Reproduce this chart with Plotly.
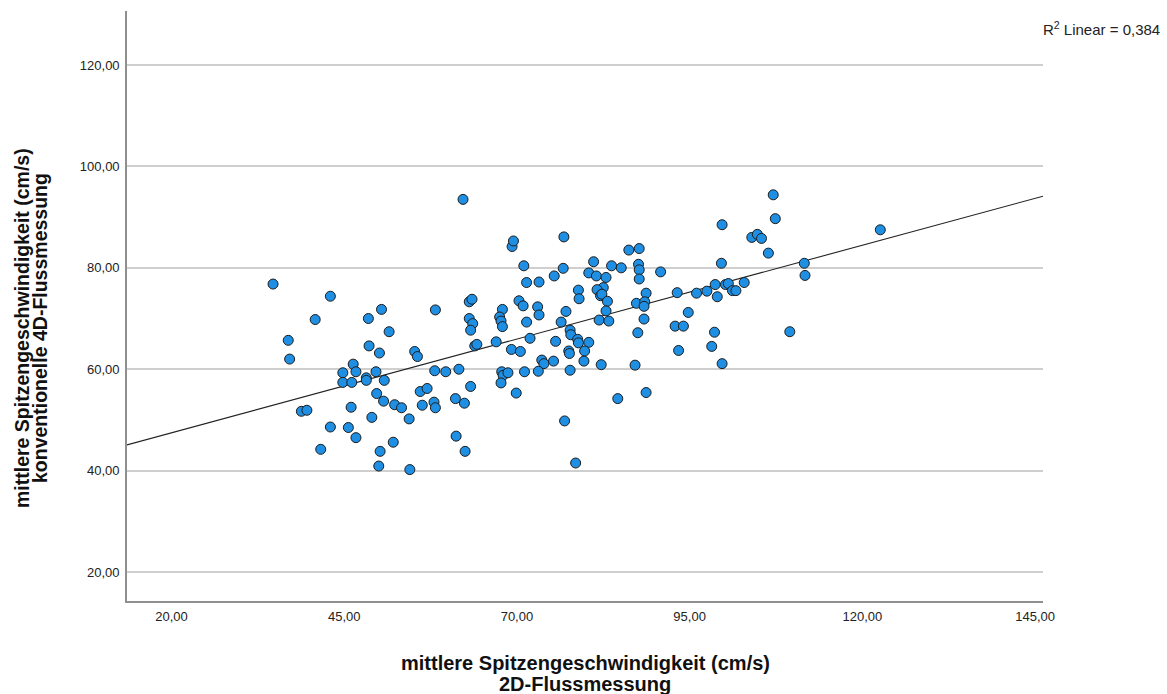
import numpy as np
import plotly.graph_objects as go

# Mittlere Spitzengeschwindigkeit (cm/s): 2D-Flussmessung vs. konventionelle 4D-Flussmessung
x_2d = [
    34.7, 43.0, 40.8, 48.5, 50.4, 51.5, 36.9, 37.1, 48.6, 50.1, 46.3, 44.8, 46.7, 44.8, 46.1,
    48.2, 48.2, 49.6, 50.8, 49.7, 50.7, 52.3, 38.8, 39.6, 46.0, 49.0, 43.0, 45.6, 46.7, 41.6,
    50.2, 50.0, 52.1,
    53.3, 54.4, 54.5, 62.2, 69.3, 69.5, 71.0, 71.4, 73.2, 75.4, 58.2, 63.1, 63.5, 63.1, 63.6,
    63.3, 63.9, 64.2, 55.2, 55.6, 58.1, 59.7, 61.6, 56.0, 57.0, 56.3, 58.0, 58.2, 61.1, 62.4,
    63.3, 61.2, 62.5, 67.0, 67.9, 67.5, 67.7, 67.9, 70.3, 70.9, 71.4, 71.9, 73.0, 73.2, 69.2,
    70.5, 73.6, 73.9, 75.3, 75.6, 67.8, 68.0, 68.7, 67.7, 71.1, 73.1, 69.9,
    76.7, 76.8, 76.4, 77.1, 77.7, 77.8, 77.5, 77.6, 77.7, 76.9, 78.5, 78.9, 79.0, 78.8, 78.9,
    80.4, 79.8, 79.7, 82.2, 80.4, 81.1, 81.5, 82.9, 82.5, 81.6, 82.1, 82.3, 83.1, 82.9, 81.9,
    83.3, 83.7, 85.1, 86.2, 87.7, 87.6, 87.7, 87.7, 90.8, 87.3, 88.7, 88.5, 88.4, 88.4, 87.5,
    87.1, 84.6, 88.7, 93.2, 92.9, 94.1, 94.8, 93.4, 96.0, 97.5, 98.7, 99.0, 98.6, 98.2,
    99.7, 99.6, 100.2, 100.6, 101.2, 101.7, 102.9, 99.7, 104.0, 104.8, 105.4, 106.4, 107.1,
    107.4, 109.5, 111.6, 111.7, 122.6,
]
y_4d = [
    76.8, 74.4, 69.8, 70.0, 71.8, 67.4, 65.7, 62.0, 64.6, 63.2, 61.0, 59.3, 59.5, 57.4, 57.4,
    58.3, 57.8, 59.5, 57.8, 55.2, 53.7, 53.0, 51.7, 51.9, 52.5, 50.5, 48.6, 48.5, 46.5, 44.2,
    43.8, 40.9, 45.6,
    52.4, 50.2, 40.2, 93.5, 84.2, 85.3, 80.4, 77.1, 77.2, 78.4, 71.7, 73.3, 73.8, 70.0, 69.0,
    67.7, 64.6, 64.9, 63.5, 62.5, 59.7, 59.5, 60.0, 55.6, 56.2, 52.9, 53.5, 52.4, 54.2, 53.3,
    56.6, 46.8, 43.8, 65.4, 71.8, 70.3, 69.5, 68.4, 73.5, 72.5, 69.3, 66.1, 72.3, 70.7, 63.9,
    63.5, 61.8, 61.1, 61.6, 65.5, 59.5, 58.8, 59.3, 57.3, 59.5, 59.6, 55.3,
    79.9, 86.1, 69.3, 71.4, 67.7, 66.8, 63.6, 63.1, 59.8, 49.8, 41.5, 75.6, 73.9, 65.9, 65.2,
    65.3, 63.6, 61.6, 60.9, 79.0, 81.2, 78.4, 78.1, 76.1, 75.7, 74.5, 74.8, 73.4, 71.5, 69.7,
    69.5, 80.4, 80.0, 83.5, 83.8, 80.7, 79.6, 77.8, 79.2, 73.0, 75.0, 73.3, 72.4, 69.9, 67.2,
    60.8, 54.2, 55.4, 75.1, 68.5, 68.5, 71.2, 63.7, 75.0, 75.4, 76.7, 74.3, 67.3, 64.5,
    88.5, 80.9, 76.7, 76.9, 75.5, 75.5, 77.1, 61.1, 86.0, 86.6, 85.8, 82.9, 94.4,
    89.7, 67.4, 80.9, 78.5, 87.5,
]

x_ticks = [20, 45, 70, 95, 120, 145]
x_tick_labels = ["20,00", "45,00", "70,00", "95,00", "120,00", "145,00"]
y_ticks = [20, 40, 60, 80, 100, 120]
y_tick_labels = ["20,00", "40,00", "60,00", "80,00", "100,00", "120,00"]

x_range = [13.56, 146.15]
y_range = [14.28, 130.66]

x_title_lines = ["mittlere Spitzengeschwindigkeit (cm/s)", "2D-Flussmessung"]
y_title_lines = ["mittlere Spitzengeschwindigkeit (cm/s)", "konventionelle 4D-Flussmessung"]
r2_label = "R<sup>2</sup> Linear = 0,384"

# Least-squares fit line across the full x range
slope, intercept = np.polyfit(x_2d, y_4d, 1)
fit_x = np.array(x_range)
fit_y = intercept + slope * fit_x

FONT = "Liberation Sans, Arial, sans-serif"

fig = go.Figure()
fig.add_trace(go.Scatter(
    x=fit_x, y=fit_y, mode="lines",
    line=dict(color="#222222", width=1.1),
    hoverinfo="skip", showlegend=False,
))
fig.add_trace(go.Scatter(
    x=x_2d, y=y_4d, mode="markers",
    marker=dict(size=10, color="#1E8FE3", line=dict(color="#1c1c1c", width=1)),
    showlegend=False,
))

annotations = []
# x-axis title, one annotation per line for tight line spacing
for text, ypos in zip(x_title_lines, [-0.1051, -0.1415]):
    annotations.append(dict(
        text=f"<b>{text}</b>", xref="paper", yref="paper", x=0.5, y=ypos,
        xanchor="center", yanchor="middle", showarrow=False,
        font=dict(family=FONT, size=20, color="#111111"),
    ))
# y-axis title, rotated
for text, xpos in zip(y_title_lines, [-0.1146, -0.095]):
    annotations.append(dict(
        text=f"<b>{text}</b>", xref="paper", yref="paper", x=xpos, y=0.4627,
        xanchor="center", yanchor="middle", showarrow=False, textangle=-90,
        font=dict(family=FONT, size=19.5, color="#111111"),
    ))
annotations.append(dict(
    text=r2_label, xref="paper", yref="paper", x=0.9978, y=0.971,
    xanchor="left", yanchor="middle", showarrow=False,
    font=dict(family=FONT, size=15, color="#222222"),
))

fig.update_layout(
    width=1167, height=694,
    margin=dict(l=127, r=124, t=11, b=93),
    paper_bgcolor="white", plot_bgcolor="white",
    font=dict(family=FONT, size=13, color="#222222"),
    xaxis=dict(
        range=x_range, tickvals=x_ticks, ticktext=x_tick_labels,
        showgrid=False, zeroline=False, showline=True,
        linecolor="#8f8f8f", linewidth=1.6, ticks="",
        ticklabelstandoff=3,
        tickfont=dict(family=FONT, size=13, color="#222222"),
    ),
    yaxis=dict(
        range=y_range, tickvals=y_ticks, ticktext=y_tick_labels,
        showgrid=True, gridcolor="#cfcfcf", gridwidth=1.6,
        zeroline=False, showline=True,
        linecolor="#8f8f8f", linewidth=1.6, ticks="",
        ticklabelstandoff=3,
        tickfont=dict(family=FONT, size=13, color="#222222"),
    ),
    annotations=annotations,
)

fig.write_html("out.html")
